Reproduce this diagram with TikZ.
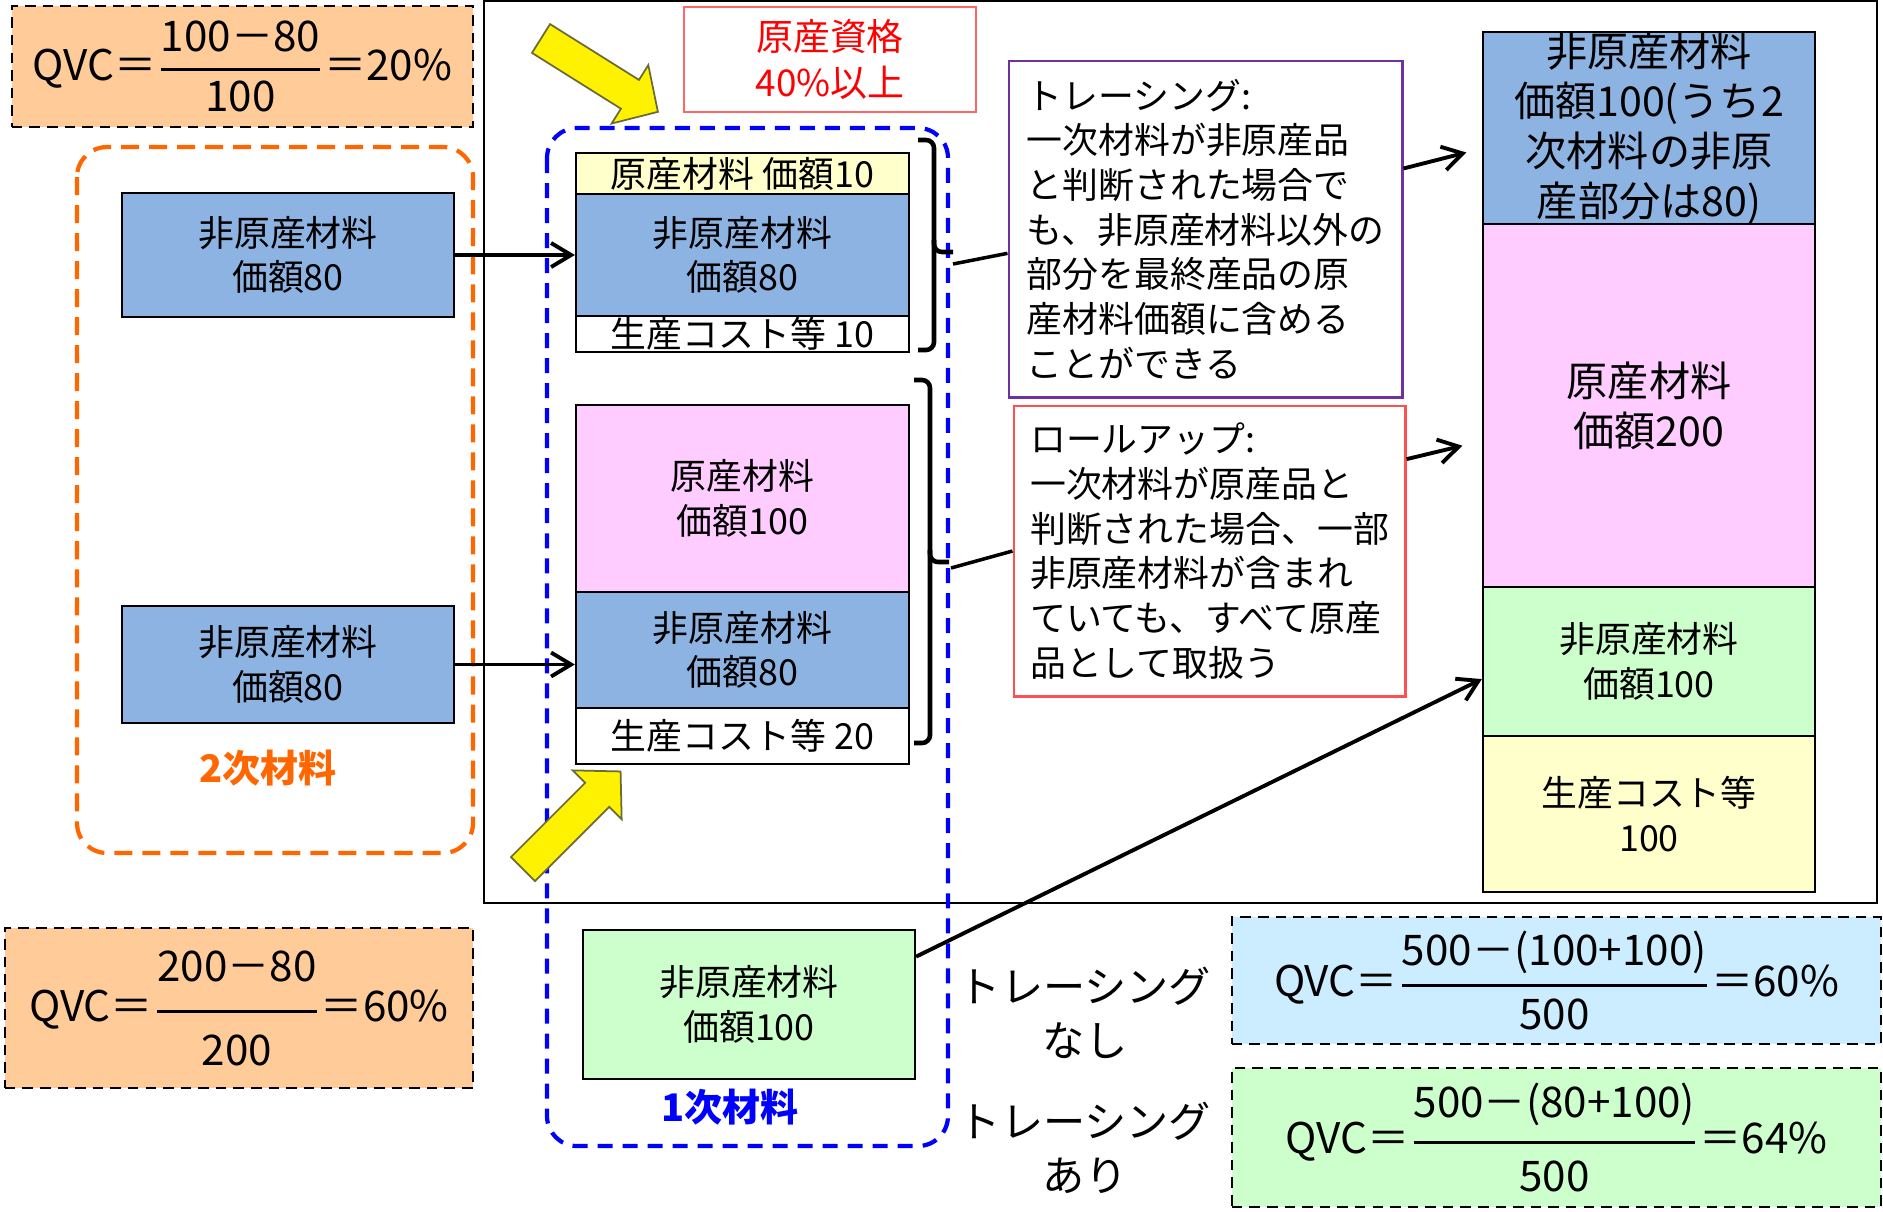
\documentclass[tikz,border=0pt]{standalone}
\usepackage{fontspec}
\setmainfont{Noto Sans CJK JP}
\usepackage{amsmath}
\usetikzlibrary{arrows.meta}

\definecolor{matblue}{HTML}{8DB3E2}
\definecolor{matpink}{HTML}{FFCCFF}
\definecolor{matyellow}{HTML}{FFFFCC}
\definecolor{matgreen}{HTML}{CCFFCC}
\definecolor{qvcpeach}{HTML}{FFCC99}
\definecolor{qvcblue}{HTML}{CCECFF}
\definecolor{grporange}{HTML}{FF6600}
\definecolor{tracepurple}{HTML}{7030A0}
\definecolor{rollred}{HTML}{FF5050}
\definecolor{origred}{HTML}{FF6666}
\definecolor{arrowedge}{HTML}{6B6B3A}

\newcommand{\fsmid}{\fontsize{10.2}{12.7}\selectfont}
\newcommand{\fsbig}{\fontsize{11.7}{14.2}\selectfont}
\newcommand{\fsqvc}{\fontsize{12}{14}\selectfont}
\newcommand{\fsnote}{\fontsize{12}{15.5}\selectfont}
\newcommand{\fsgrp}{\fontsize{10.8}{13}\selectfont\bfseries}
\newcommand{\qvcfrac}[3][0pt]{$\genfrac{}{}{0.9pt}{0}{\text{#2}\rule[\dimexpr-2pt-#1\relax]{0pt}{0pt}}{\rule{0pt}{\dimexpr8.8pt+#1\relax}\text{#3}}$}

\tikzset{
    mat/.style={draw, line width=0.6pt, inner sep=0pt, align=center, font=\fsmid, minimum width=3.32cm},
    qvc/.style={draw, densely dashed, line width=0.5pt, inner sep=0pt, font=\fsqvc},
    note/.style={draw, line width=0.8pt, align=left, font=\fsmid, inner sep=0pt},
    feed/.style={line width=1.1pt, -{Straight Barb[length=2mm,width=2.4mm]}},
    link/.style={line width=1pt},
    grp/.style={line width=1.2pt, rounded corners=0.3cm},
    brc/.style={line width=1.3pt, rounded corners=0.08cm},
    yarrow/.style={fill=yellow, draw=arrowedge, line width=0.5pt}
}

\begin{document}
    \begin{tikzpicture}[x=0.01cm, y=-0.01cm]
        \useasboundingbox (0,0) rectangle (1883,1211);

        \draw[line width=0.5pt] (484,1) rectangle (1877,903);
        \draw[grp, grporange, dash pattern=on 0.18cm off 0.1cm] (77,147) rectangle (473,853);
        \draw[grp, blue, dash pattern=on 0.15cm off 0.1cm] (547,128) rectangle (948,1146);

        \node[qvc, fill=qvcpeach, minimum width=4.61cm, minimum height=1.21cm] (qvc2nd) at (242.5,66.5) {QVC＝\qvcfrac{100－80}{100}＝20\%};
        \node[qvc, fill=qvcpeach, minimum width=4.68cm, minimum height=1.60cm] (qvc1st) at (239,1008) {QVC＝\qvcfrac[3.4pt]{200－80}{200}＝60\%};
        \node[qvc, fill=qvcblue, minimum width=6.49cm, minimum height=1.27cm] (qvcnone) at (1556.5,980.5) {QVC＝\qvcfrac[0.6pt]{500－(100+100)}{500}＝60\%};
        \node[qvc, fill=matgreen, minimum width=6.49cm, minimum height=1.39cm] (qvcwith) at (1556.5,1137.5) {QVC＝\qvcfrac[2pt]{500－(80+100)}{500}＝64\%};

        \node[mat, fill=matblue, minimum height=1.24cm] (sec1) at (288,255) {非原産材料\\価額80};
        \node[mat, fill=matblue, minimum height=1.17cm] (sec2) at (288,664.5) {非原産材料\\価額80};
        \node[font=\fsgrp, text=grporange] (lab2nd) at (268,768) {2次材料};

        \node[mat, fill=matyellow, minimum width=3.33cm, minimum height=0.41cm] (p1o) at (742.5,173.5) {原産材料 価額10};
        \node[mat, fill=matblue, minimum width=3.33cm, minimum height=1.22cm] (p1b) at (742.5,255) {非原産材料\\価額80};
        \node[mat, fill=white, minimum width=3.33cm, minimum height=0.36cm] (p1c) at (742.5,334) {生産コスト等 10};

        \node[mat, fill=matpink, minimum width=3.33cm, minimum height=1.87cm] (p2o) at (742.5,498.5) {原産材料\\価額100};
        \node[mat, fill=matblue, minimum width=3.33cm, minimum height=1.16cm] (p2b) at (742.5,650) {非原産材料\\価額80};
        \node[mat, fill=white, minimum width=3.33cm, minimum height=0.56cm] (p2c) at (742.5,736) {生産コスト等 20};

        \node[mat, fill=matgreen, minimum height=1.49cm] (prim) at (749,1004.5) {非原産材料\\価額100};
        \node[font=\fsgrp, text=blue] (lab1st) at (730,1107) {1次材料};

        \node[draw=origred, line width=0.6pt, text=red, align=center, font=\fontsize{10.5}{13}\selectfont, minimum width=2.92cm, minimum height=1.05cm] (orig) at (830,59.5) {原産資格\\40\%以上};

        \node[note, draw=tracepurple, minimum width=3.93cm, minimum height=3.36cm] (trace) at (1205.5,229) {トレーシング:\\一次材料が非原産品\\と判断された場合で\\も、非原産材料以外の\\部分を最終産品の原\\産材料価額に含める\\ことができる};
        \node[note, draw=rollred, minimum width=3.91cm, minimum height=2.90cm] (rollup) at (1209.5,551) {ロールアップ:\\一次材料が原産品と\\判断された場合、一部\\非原産材料が含まれ\\ていても、すべて原産\\品として取扱う};

        \node[mat, fill=matblue, font=\fsbig, minimum height=1.92cm] (fnb) at (1649,128) {非原産材料\\価額100(うち2\\次材料の非原\\産部分は80)};
        \node[mat, fill=matpink, font=\fsbig, minimum height=3.63cm] (fno) at (1649,405.5) {原産材料\\価額200};
        \node[mat, fill=matgreen, minimum height=1.49cm] (fng) at (1649,661.5) {非原産材料\\価額100};
        \node[mat, fill=matyellow, minimum height=1.56cm] (fnc) at (1649,814) {生産コスト等\\100};

        \node[align=center, font=\fsnote] (tnone) at (1085,1013) {トレーシング\\なし};
        \node[align=center, font=\fsnote] (twith) at (1085,1148) {トレーシング\\あり};

        \draw[yarrow, shift={(541,38.5)}, rotate=-32.1] (0,-17) -- (105,-17) -- (105,-34.5) -- (138,0) -- (105,34.5) -- (105,17) -- (0,17) -- cycle;
        \draw[yarrow, shift={(523,869)}, rotate=45] (0,-17) -- (105,-17) -- (105,-34.5) -- (138,0) -- (105,34.5) -- (105,17) -- (0,17) -- cycle;

        \draw[brc] (918,140) -- (934,140) -- (934,252) -- (953,252);
        \draw[brc] (934,240) -- (934,350) -- (918,350);
        \draw[brc] (914,380) -- (930,380) -- (930,562) -- (949,562);
        \draw[brc] (930,550) -- (930,743) -- (914,743);
        \coordinate (b1end) at (953,264);
        \coordinate (b2end) at (951,568);

        \draw[feed] (sec1.east) -- (p1b.west);
        \draw[feed] (sec2.east) -- (sec2.east -| p2b.west);
        \draw[link] (b1end) -- (trace.187);
        \draw[feed, shorten >=0.16cm] (trace.17) -- (fnb.187);
        \draw[link] (b2end) -- (rollup.west);
        \draw[feed, shorten >=0.2cm] (rollup.25) -- (fno.192);
        \draw[feed] (prim.16) -- (fng.186);
    \end{tikzpicture}
\end{document}
